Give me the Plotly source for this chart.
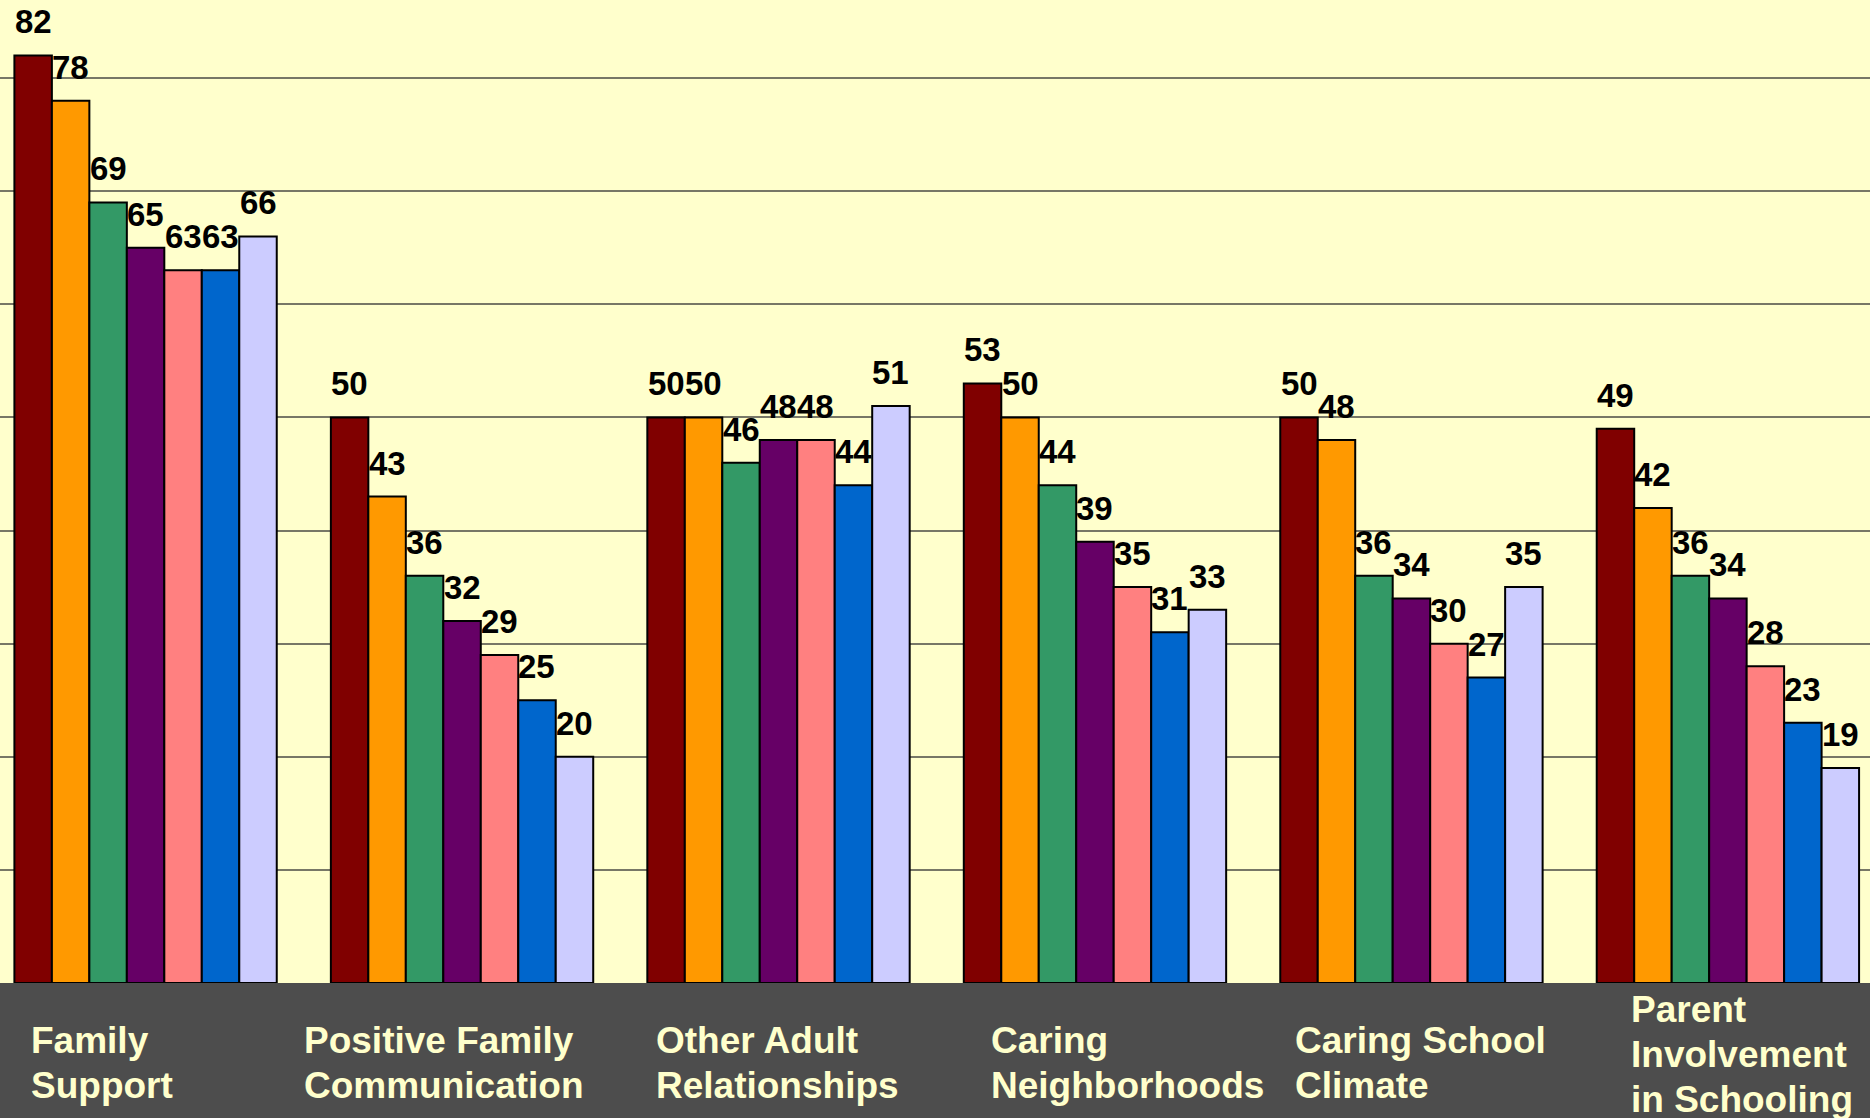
"""
Developmental assets by grade - grouped bar chart
"""

import plotly.graph_objects as go

categories = [
    "Family Support",
    "Positive Family Communication",
    "Other Adult Relationships",
    "Caring Neighborhoods",
    "Caring School Climate",
    "Parent Involvement in Schooling",
]

# one series per grade
series_names = ["Grade 6", "Grade 7", "Grade 8", "Grade 9", "Grade 10", "Grade 11", "Grade 12"]
grade6 = [82, 50, 50, 53, 50, 49]
grade7 = [78, 43, 50, 50, 48, 42]
grade8 = [69, 36, 46, 44, 36, 36]
grade9 = [65, 32, 48, 39, 34, 34]
grade10 = [63, 29, 48, 35, 30, 28]
grade11 = [63, 25, 44, 31, 27, 23]
grade12 = [66, 20, 51, 33, 35, 19]

series_values = [grade6, grade7, grade8, grade9, grade10, grade11, grade12]
colors = ["#800000", "#FF9900", "#339966", "#660066", "#FF8080", "#0066CC", "#CCCCFF"]

# category labels as they sit in the grey band below the plot
tick_labels = [
    ["Family", "Support"],
    ["Positive Family", "Communication"],
    ["Other Adult", "Relationships"],
    ["Caring", "Neighborhoods"],
    ["Caring School", "Climate"],
    ["Parent", "Involvement", "in Schooling"],
]

FONT = "Liberation Sans, Arial, sans-serif"
W, H = 1870, 1118
BOTTOM = 135
X_RANGE = [-0.46, 5.449]
BARGAP = 0.171

fig = go.Figure()

for name, vals, col in zip(series_names, series_values, colors):
    fig.add_trace(go.Bar(
        x=categories,
        y=vals,
        name=name,
        marker=dict(color=col, line=dict(color="black", width=2)),
        hovertemplate="%{x}<br>" + name + ": %{y}<extra></extra>",
    ))

# value labels above each bar (bar width in px follows from the axis range)
n = len(series_values)
px_per_cat = W / (X_RANGE[1] - X_RANGE[0])
bar_px = px_per_cat * (1 - BARGAP) / n
for i, vals in enumerate(series_values):
    for cat, v in zip(categories, vals):
        fig.add_annotation(
            x=cat, y=v, xref="x", yref="y",
            text=f"<b>{v}</b>",
            xshift=(i - (n - 1) / 2) * bar_px,
            yshift=13,
            xanchor="center", yanchor="bottom",
            showarrow=False,
            font=dict(family=FONT, size=33, color="black"),
        )

fig.update_layout(
    width=W,
    height=H,
    barmode="group",
    bargap=BARGAP,
    bargroupgap=0,
    showlegend=False,
    plot_bgcolor="#FFFFCC",
    paper_bgcolor="#4D4D4D",
    margin=dict(l=0, r=0, t=0, b=BOTTOM),
    xaxis=dict(
        range=X_RANGE,
        showticklabels=False,
        showgrid=False,
        zeroline=False,
        showline=False,
        ticks="",
    ),
    yaxis=dict(
        range=[0, 86.9],
        dtick=10,
        showticklabels=False,
        showgrid=True,
        gridcolor="#777766",
        gridwidth=2,
        zeroline=False,
        showline=False,
        ticks="",
    ),
)

# category labels in the dark band, one annotation per line
plot_h = H - BOTTOM
line_step = 45
label_x = [29, 302, 654, 989, 1293, 1629]
label_top = [1040, 1040, 1040, 1040, 1040, 1009]
for lines, lx, ly in zip(tick_labels, label_x, label_top):
    for k, line in enumerate(lines):
        y_px = ly + k * line_step
        fig.add_annotation(
            text=f"<b>{line}</b>",
            xref="paper", yref="paper",
            x=lx / W, y=(plot_h - y_px) / plot_h,
            xanchor="left", yanchor="middle",
            showarrow=False,
            font=dict(family=FONT, size=37, color="#FFFFCC"),
        )

fig.write_html(
    "out.html",
    config={"displayModeBar": False},
    post_script="document.body.style.margin='0';document.body.style.overflow='hidden';",
)
